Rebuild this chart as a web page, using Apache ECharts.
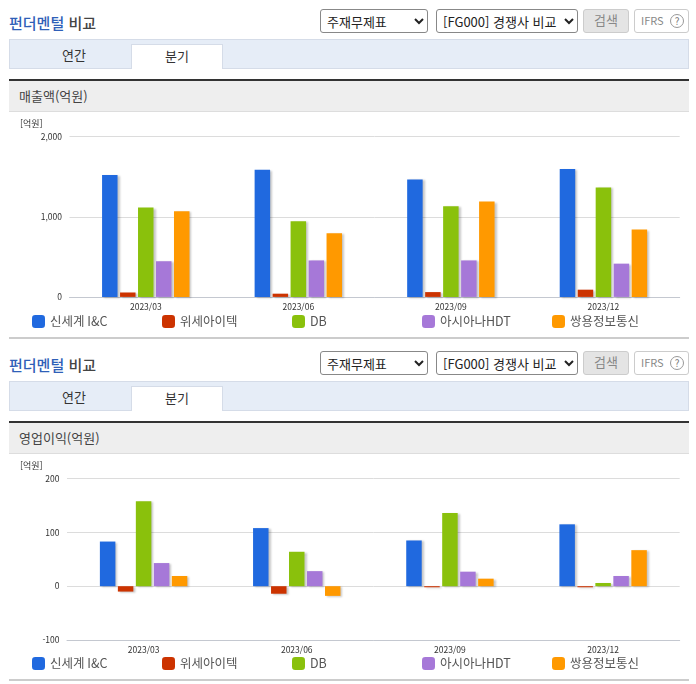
<!DOCTYPE html>
<html lang="ko">
<head>
<meta charset="utf-8">
<script src="https://cdn.jsdelivr.net/npm/echarts@6/dist/echarts.min.js"></script>
<style>
html,body{margin:0;padding:0;background:#fff;width:696px;height:684px;overflow:hidden;font-family:"Noto Sans CJK KR",sans-serif;}
.block{position:absolute;left:0;width:696px;height:342px;}
.title{position:absolute;left:9px;top:13px;font-size:15px;line-height:20px;font-weight:500;color:#444;}
.title b{color:#2f5fb8;font-weight:500;}
select{position:absolute;top:9px;height:24px;box-sizing:border-box;background:#fff;border:1px solid #888;border-radius:3px;font-family:inherit;font-size:13px;color:#222;padding:0 0 0 2px;}
.sel1{left:320px;width:108px;}
.sel2{left:436px;width:142px;}
.btn{position:absolute;left:583px;top:9px;width:46px;height:24px;box-sizing:border-box;background:#e4e4e4;border:1px solid #ccc;border-radius:3px;color:#888;font-size:13px;line-height:19px;text-align:center;}
.ifrs{position:absolute;left:634px;top:9px;width:55px;height:24px;box-sizing:border-box;border:1px solid #ccc;border-radius:3px;color:#888;font-size:11px;line-height:20px;padding-left:6px;}
.ifrs i{position:absolute;right:4px;top:4px;width:14px;height:14px;box-sizing:border-box;border:1px solid #999;border-radius:50%;font-style:normal;font-size:10px;line-height:12px;text-align:center;color:#777;}
.tabs{position:absolute;left:9px;top:39px;width:680px;height:30px;box-sizing:border-box;background:#e6edf7;border:1px solid #d5dce8;}
.tab{position:absolute;font-size:13px;text-align:center;color:#333;line-height:22px;}
.tab1{left:9px;top:44px;width:130px;}
.tab2{left:131px;top:44px;width:92px;height:25px;box-sizing:border-box;background:#fff;border:1px solid #d5dce8;border-bottom:none;}
.head{position:absolute;left:9px;top:79px;width:680px;height:33px;box-sizing:border-box;background:#eee;border-top:2px solid #333;border-bottom:1px solid #ddd;font-size:13px;line-height:30px;padding-left:10px;color:#444;}
.foot{position:absolute;left:9px;top:337px;width:680px;height:2px;background:#ccc;}
.chart{position:absolute;left:0;top:112px;width:696px;height:225px;}
</style>
</head>
<body>
<div id="block0" class="block" style="top:0"></div>
<div id="block1" class="block" style="top:342px"></div>
<script>
var categories = ['2023/03', '2023/06', '2023/09', '2023/12'];
var companies = ['신세계 I&C', '위세아이텍', 'DB', '아시아나HDT', '쌍용정보통신'];

// 매출액
var salesShinsegae = [1520, 1585, 1465, 1595];
var salesWise = [55, 40, 60, 90];
var salesDb = [1115, 945, 1130, 1365];
var salesAsiana = [445, 455, 455, 415];
var salesSsangyong = [1070, 795, 1190, 840];

// 영업이익
var profitShinsegae = [83, 108, 85, 115];
var profitWise = [-10, -14, -2, -2];
var profitDb = [158, 64, 136, 6];
var profitAsiana = [43, 28, 27, 19];
var profitSsangyong = [19, -18, 14, 67];

var colors = ['#2069df', '#cc3300', '#8ac10c', '#a678d8', '#ff9900'];
var fontName = '"Noto Sans CJK KR", sans-serif';

function fillBlock(id, heading) {
    document.getElementById(id).innerHTML =
        '<div class="title"><b>펀더멘털</b> 비교</div>' +
        '<select class="sel1"><option>주재무제표</option></select>' +
        '<select class="sel2"><option>[FG000] 경쟁사 비교</option></select>' +
        '<div class="btn">검색</div>' +
        '<div class="ifrs">IFRS<i>?</i></div>' +
        '<div class="tabs"></div>' +
        '<div class="tab tab1">연간</div>' +
        '<div class="tab tab2">분기</div>' +
        '<div class="head">' + heading + '</div>' +
        '<div class="chart"></div>' +
        '<div class="foot"></div>';
    return document.querySelector('#' + id + ' .chart');
}

function drawChart(dom, seriesData, axis) {
    var myChart = echarts.init(dom);
    var legends = companies.map(function (name, i) {
        return {
            data: [name],
            left: 32 + i * 130,
            top: 203,
            padding: 0,
            itemWidth: 13,
            itemHeight: 13,
            itemGap: 5,
            icon: 'roundRect',
            textStyle: { fontFamily: fontName, fontSize: 12.5, color: '#555' }
        };
    });
    var option = {
        animation: false,
        legend: legends,
        graphic: [{
            type: 'text',
            left: 20,
            top: 7,
            style: { text: '[억원]', fontFamily: fontName, fontSize: 9, fill: '#333' }
        }],
        grid: { left: axis.left, right: 16.3, top: 24.6, height: axis.height },
        xAxis: [{
            type: 'category',
            data: categories,
            axisLine: { onZero: false, lineStyle: { color: '#c4c8d0' } },
            axisTick: { length: 4, lineStyle: { color: '#c4c8d0' } },
            axisLabel: { fontFamily: fontName, fontSize: 8.5, color: '#333', margin: 6 }
        }],
        yAxis: [{
            type: 'value',
            min: axis.min,
            max: axis.max,
            interval: axis.interval,
            axisLine: { show: false },
            axisTick: { show: false },
            splitLine: { lineStyle: { color: '#dcdcdc' } },
            axisLabel: {
                fontFamily: fontName, fontSize: 8.5, color: '#333', margin: 7.5,
                formatter: function (v) { return v.toLocaleString('en-US'); }
            }
        }],
        series: companies.map(function (name, i) {
            return {
                name: name,
                type: 'bar',
                data: seriesData[i],
                barWidth: 15.5,
                barGap: '16%',
                itemStyle: {
                    color: colors[i],
                    shadowColor: 'rgba(0,0,0,0.22)',
                    shadowBlur: 2,
                    shadowOffsetX: 2,
                    shadowOffsetY: 1
                }
            };
        })
    };
    myChart.setOption(option);
}

drawChart(fillBlock('block0', '매출액(억원)'),
    [salesShinsegae, salesWise, salesDb, salesAsiana, salesSsangyong],
    { left: 69.5, height: 160.3, min: 0, max: 2000, interval: 1000 });
drawChart(fillBlock('block1', '영업이익(억원)'),
    [profitShinsegae, profitWise, profitDb, profitAsiana, profitSsangyong],
    { left: 67, height: 161.4, min: -100, max: 200, interval: 100 });
</script>
</body>
</html>
